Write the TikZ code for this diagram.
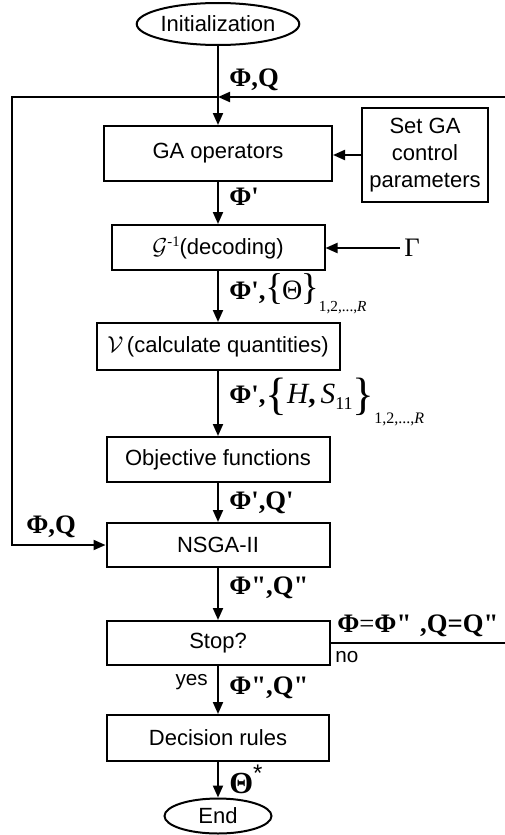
\documentclass[tikz,border=0pt]{standalone}
\usepackage{fontspec}
\setmainfont{Liberation Sans}
\newfontfamily\tnr{Liberation Serif}[Ligatures=TeXOff]
\usetikzlibrary{shapes.geometric,arrows.meta}
\tikzset{
  box/.style={draw, line width=1.5pt, rectangle, inner sep=0pt, font=\fontsize{16.5}{20}\selectfont, align=center},
  oval/.style={draw, line width=1.5pt, ellipse, inner sep=0pt, font=\fontsize{16.5}{20}\selectfont},
  arr/.style={line width=1.5pt, -{Triangle[length=9pt,width=7.5pt]}},
  ln/.style={line width=1.5pt},
  lbl/.style={inner sep=0pt, anchor=west, font={\tnr\bfseries\fontsize{20}{22}\selectfont}},
  small/.style={inner sep=0pt, font=\fontsize{15.5}{18}\selectfont}
}
\begin{document}
\begin{tikzpicture}[x=0.75pt,y=-0.75pt]
\useasboundingbox (0,0) rectangle (505,835);
% nodes
\node[oval, minimum width=107.25pt, minimum height=31.5pt] (init) at (218,24) {Initialization};
\node[box, minimum width=171pt, minimum height=41.25pt] (ga) at (218,153.5) {GA operators};
\node[box, minimum width=94.5pt, minimum height=70.5pt] (setga) at (425,155) {Set GA\\control\\parameters};
\node[box, minimum width=159.75pt, minimum height=33.75pt] (dec) at (218,247.5) {$\mathcal{G}$\raisebox{6pt}{\tnr\fontsize{11}{11}\selectfont -1}(decoding)};
\node[box, minimum width=182.25pt, minimum height=35.25pt] (calc) at (218,346.5) {$\mathcal{V}$\,(calculate quantities)};
\node[box, minimum width=167.25pt, minimum height=33.75pt] (obj) at (218,459.5) {Objective functions};
\node[box, minimum width=167.25pt, minimum height=33pt] (nsga) at (218,545) {NSGA-II};
\node[box, minimum width=167.25pt, minimum height=33pt] (stop) at (218,643) {Stop?};
\node[box, minimum width=166.5pt, minimum height=34.5pt] (dr) at (218,738) {Decision rules};
\node[oval, minimum width=80.25pt, minimum height=26.25pt] (endn) at (218,816) {End};
% coordinates
\coordinate (rt) at (505,97);
\coordinate (mg) at (218,97);
\coordinate (lt) at (12,97);
\coordinate (gam) at (400,248);
\coordinate (rs) at (505,643);
% connectors
\draw[arr] (init.south) -- (ga.north);
\draw[arr] (rt) -- (mg);
\draw[arr] (mg) -- (lt) |- (nsga.west);
\draw[arr] (setga.west) -- (setga.west -| ga.east);
\draw[arr] (ga.south) -- (dec.north);
\draw[arr] (gam) -- (gam -| dec.east);
\draw[arr] (dec.south) -- (calc.north);
\draw[arr] (calc.south) -- (obj.north);
\draw[arr] (obj.south) -- (nsga.north);
\draw[arr] (nsga.south) -- (stop.north);
\draw[ln] (stop.east) -- (rs);
\draw[arr] (stop.south) -- (dr.north);
\draw[arr] (dr.south) -- (endn.north);
% labels
\node[lbl] (l1) at (229,80) {Φ,Q};
\node[lbl] (l2) at (229,197) {Φ'};
\node[lbl] (l3) at (229,294) {Φ',{\mdseries\fontsize{28}{28}\selectfont\{}\kern-1pt{\mdseries\fontsize{21}{21}\selectfont Θ}\kern-1pt{\mdseries\fontsize{28}{28}\selectfont\}}\raisebox{-9pt}{\mdseries\fontsize{11.5}{12}\selectfont 1,2,...,\textit{R}}};
\node[lbl, anchor=base west] (l4) at (229,403) {Φ',\raisebox{-5pt}{\mdseries\fontsize{34}{34}\selectfont\{}{\mdseries\itshape\fontsize{22}{22}\selectfont H{\upshape\bfseries ,}\,S}\raisebox{-5pt}{\mdseries\fontsize{13.5}{14}\selectfont 11}\raisebox{-5pt}{\mdseries\fontsize{34}{34}\selectfont\}}\raisebox{-15pt}{\mdseries\fontsize{12}{13}\selectfont 1,2,...,\textit{R}}};
\node[lbl] (l5) at (229,503) {Φ',Q'};
\node[lbl] (l6) at (26,527) {Φ,Q};
\node[lbl] (l7) at (229,588) {Φ",Q"};
\node[lbl] (l8) at (337,626) {Φ{\mdseries =}Φ"\,\,,Q=Q"};
\node[small, anchor=west] (l9) at (335,657) {no};
\node[small, anchor=east] (l10) at (208,682) {yes};
\node[lbl] (l11) at (229,688) {Φ",Q"};
\node[lbl] (l12) at (229,779) {{\fontsize{23}{23}\selectfont Θ}\raisebox{9pt}{\normalfont\fontsize{18}{18}\selectfont *}};
\node[lbl, font={\tnr\fontsize{20}{22}\selectfont}] (l13) at (404,248) {Γ};
\end{tikzpicture}
\end{document}
